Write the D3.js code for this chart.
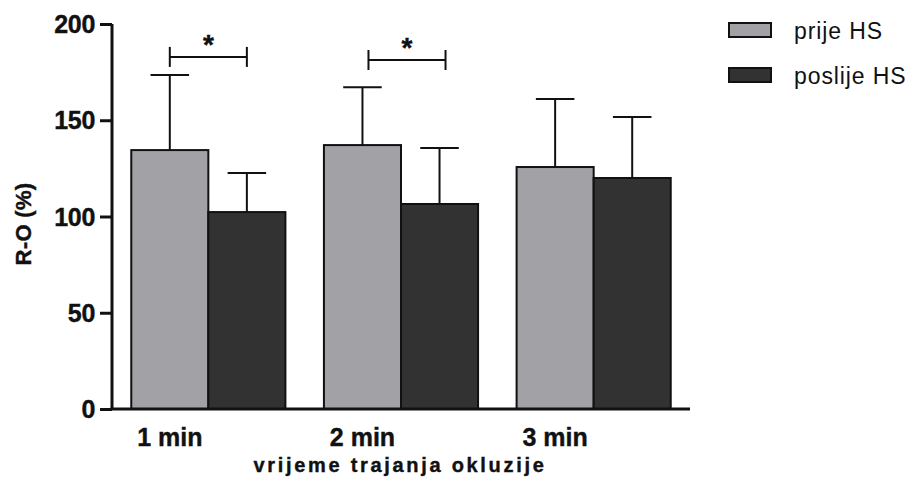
<!DOCTYPE html>
<html><head><meta charset="utf-8">
<script src="https://cdn.jsdelivr.net/npm/d3@7"></script>
<style>body{margin:0;background:#fff}svg{display:block}</style>
</head><body>
<svg id="c" width="913" height="491"></svg>
<script>
const categories = ["1 min", "2 min", "3 min"];
const seriesNames = ["prije HS", "poslije HS"];
const prije = [134.5, 137.1, 125.7];
const prijeErr = [39.0, 30.1, 35.3];
const poslije = [102.3, 106.5, 120.0];
const poslijeErr = [20.3, 29.1, 31.7];
const yTicks = [0, 50, 100, 150, 200];
const sigGroups = [0, 1];
const sigLevel = [182.9, 181.3];
const sigLabel = ["*", "*"];
const yTitle = "R-O (%)";
const xTitle = "vrijeme trajanja okluzije";

const colors = ["#a2a1a6", "#323232"];
const svg = d3.select("#c");
const x = d3.scaleBand().domain(categories).range([112, 690]).paddingInner(0.2).paddingOuter(0.1);
const xs = d3.scaleBand().domain(seriesNames).range([0, x.bandwidth()]);
const y = d3.scaleLinear().domain([0, 200]).range([409, 24]);
const series = [{name: seriesNames[0], v: prije, e: prijeErr}, {name: seriesNames[1], v: poslije, e: poslijeErr}];

function stext(g, px, py, txt, anchor, size, weight, ls, rot) {
  const gg = g.append("g").attr("transform", `translate(${px},${py})` + (rot ? ` rotate(${rot})` : ""));
  const t = gg.append("text").attr("x", 0).attr("y", 0).attr("text-anchor", anchor)
    .attr("font-family", "'Liberation Sans', Arial, sans-serif").attr("font-size", size)
    .attr("font-weight", weight).attr("letter-spacing", ls || 0).attr("fill", "#111").text(txt);
  if (weight === "bold") t.attr("stroke", "#111").attr("stroke-width", 0.4);
  return t;
}

// error bars
series.forEach((s) => {
  s.v.forEach((v, i) => {
    const cx = x(categories[i]) + xs(s.name) + xs.bandwidth() / 2;
    const cw = xs.bandwidth() / 2;
    svg.append("line").attr("x1", cx).attr("x2", cx).attr("y1", y(v)).attr("y2", y(v + s.e[i])).attr("stroke", "#111").attr("stroke-width", 2);
    svg.append("line").attr("x1", cx - cw / 2).attr("x2", cx + cw / 2).attr("y1", y(v + s.e[i])).attr("y2", y(v + s.e[i])).attr("stroke", "#111").attr("stroke-width", 2);
  });
});
// bars
series.forEach((s, si) => {
  svg.append("g").selectAll("rect").data(s.v).join("rect")
    .attr("x", (d, i) => x(categories[i]) + xs(s.name))
    .attr("y", d => y(d))
    .attr("width", xs.bandwidth())
    .attr("height", d => y(0) - y(d))
    .attr("fill", colors[si]).attr("stroke", "#111").attr("stroke-width", 2);
});

// significance brackets
sigGroups.forEach((gi, k) => {
  const off = gi === 1 ? 6 : 0;
  const x1 = x(categories[gi]) + xs(seriesNames[0]) + xs.bandwidth() / 2 + off;
  const x2 = x(categories[gi]) + xs(seriesNames[1]) + xs.bandwidth() / 2 + off;
  const yy = y(sigLevel[k]);
  const g = svg.append("g").attr("stroke", "#111").attr("stroke-width", 2);
  g.append("line").attr("x1", x1).attr("x2", x2).attr("y1", yy).attr("y2", yy);
  g.append("line").attr("x1", x1).attr("x2", x1).attr("y1", yy - 10).attr("y2", yy + 10);
  g.append("line").attr("x1", x2).attr("x2", x2).attr("y1", yy - 10).attr("y2", yy + 10);
  stext(svg, (x1 + x2) / 2, yy - 3, sigLabel[k], "middle", 28, "bold");
});

// y axis
const yAxis = svg.append("g").attr("transform", "translate(112,0)")
  .call(d3.axisLeft(y).tickValues(yTicks).tickSize(12).tickFormat(d3.format("d")));
yAxis.select(".domain").attr("d", `M0,${y(200)}V${y(0)}`).attr("stroke", "#111").attr("stroke-width", 3);
yAxis.selectAll(".tick line").attr("stroke", "#111").attr("stroke-width", 3);
yAxis.selectAll(".tick text").remove();
yTicks.forEach(t => {
  stext(svg, 95, y(t) + 9, String(t), "end", 25, "bold", -0.3);
});
// x axis
const xAxis = svg.append("g").attr("transform", `translate(0,${y(0)})`)
  .call(d3.axisBottom(x).tickSize(0).tickFormat(""));
xAxis.select(".domain").attr("d", "M110.5,0H690").attr("stroke", "#111").attr("stroke-width", 3);
categories.forEach(c => {
  const cx = x(c) + xs(seriesNames[0]) + xs.bandwidth() / 2;
  stext(svg, cx, 446, c, "middle", 25, "bold");
});

// titles
stext(svg, 400, 472, xTitle, "middle", 20, "bold", 2.7);
stext(svg, 31, 224, yTitle, "middle", 22, "bold", 0.3, -90);

// legend
seriesNames.forEach((n, i) => {
  const ly = 23 + i * 45;
  svg.append("rect").attr("x", 729).attr("y", ly).attr("width", 42).attr("height", 14)
    .attr("fill", colors[i]).attr("stroke", "#111").attr("stroke-width", 2);
  stext(svg, 794, ly + 16, n, "start", 23, "normal", 0.9);
});
</script>
</body></html>
